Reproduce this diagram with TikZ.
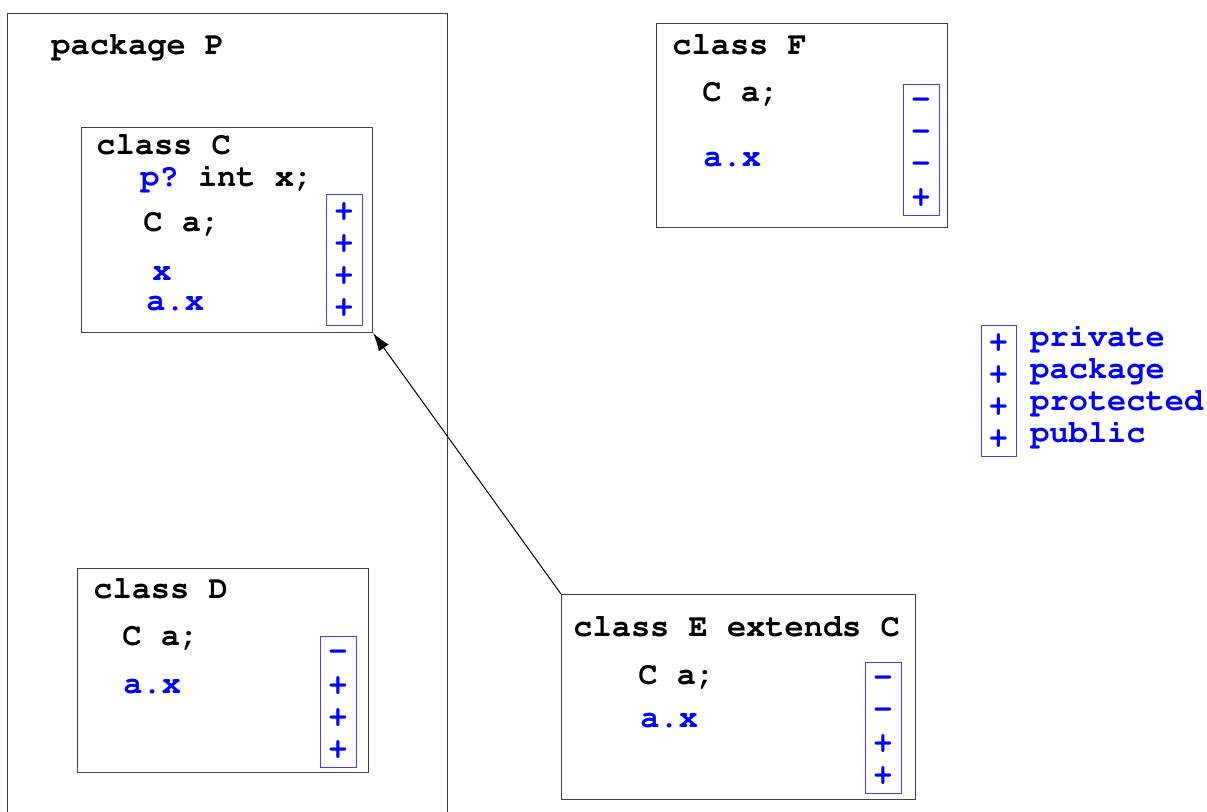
\documentclass[tikz,border=0pt]{standalone}
\usepackage[T1]{fontenc}
\usepackage{courier}
\usetikzlibrary{arrows.meta, positioning}

\begin{document}
\begin{tikzpicture}[
    x=0.5pt, y=-0.5pt,
    font=\ttfamily\bfseries\fontsize{16}{19}\selectfont\frenchspacing,
    box/.style={draw=black!75, line width=0.6pt, anchor=north west, inner sep=0pt},
    vis/.style={draw=blue!75, line width=0.5pt, anchor=north west, inner sep=0pt, minimum width=18pt, minimum height=65.5pt},
    code/.style={anchor=mid west, inner sep=0pt},
    hl/.style={code, text=blue},
    sign/.style={inner sep=0pt, text=blue}
]
    \useasboundingbox (0,0) rectangle (1207,811);

    % Package
    \node[box, minimum width=220pt, minimum height=408.5pt] (pkg) at (7,13) {};
    \node[code] (pkgname) at (51,50) {package P};

    % Class C
    \node[box, minimum width=145.5pt, minimum height=102.5pt] (C) at (81,127) {};
    \node[code] (Cname) at (96,150) {class C};
    \node[code] (Cfield) at (140,182) {\textcolor{blue}{p?} int x;};
    \node[code] (Cdecl) at (143,227) {C a;};
    \node[hl] (Cx) at (152,276) {x};
    \node[hl] (Cax) at (146,306) {a.x};
    \node[vis] (Cvis) at (326,194) {};
    \foreach \s [count=\i from 0] in {+,+,+,+}
        \node[sign] at (344,{213+32*\i}) {\s};

    % Class D
    \node[box, minimum width=145.5pt, minimum height=102pt] (D) at (77,568) {};
    \node[code] (Dname) at (93,594) {class D};
    \node[code] (Ddecl) at (122,641) {C a;};
    \node[hl] (Dax) at (123,689) {a.x};
    \node[vis] (Dvis) at (320,636) {};
    \foreach \s [count=\i from 0] in {-,+,+,+}
        \node[sign] at (338,{655+32*\i}) {\s};

    % Class F
    \node[box, minimum width=145.5pt, minimum height=102pt] (F) at (656,23) {};
    \node[code] (Fname) at (672,50) {class F};
    \node[code] (Fdecl) at (702,97) {C a;};
    \node[hl] (Fax) at (703,162) {a.x};
    \node[vis] (Fvis) at (903,84) {};
    \foreach \s [count=\i from 0] in {-,-,-,+}
        \node[sign] at (921,{103+32*\i}) {\s};

    % Class E
    \node[box, minimum width=177pt, minimum height=102.5pt] (E) at (561,594) {};
    \node[code] (Ename) at (573,632) {class E extends C};
    \node[code] (Edecl) at (638,680) {C a;};
    \node[hl] (Eax) at (640,723) {a.x};
    \node[vis] (Evis) at (865,662) {};
    \foreach \s [count=\i from 0] in {-,-,+,+}
        \node[sign] at (883,{681+32*\i}) {\s};

    % Legend
    \node[vis, minimum width=17.5pt] (leg) at (981,325) {};
    \foreach \s [count=\i from 0] in {private,package,protected,public} {
        \node[sign] at (998.5,{344+32*\i}) {+};
        \node[hl] at (1030,{342+32*\i}) {\s};
    }

    % Inheritance
    \draw[-{Latex[length=9pt, width=6pt]}, line width=0.5pt] (E.north west) -- (C.south east);
\end{tikzpicture}
\end{document}
